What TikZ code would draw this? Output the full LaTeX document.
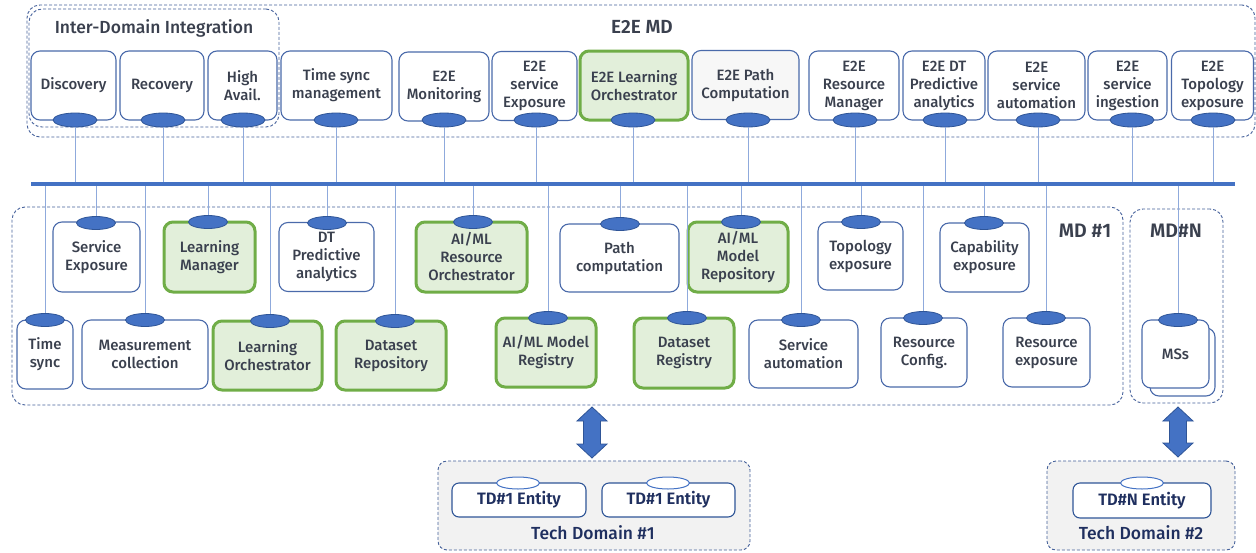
\documentclass[tikz,border=0pt]{standalone}
\usepackage{fontspec}
\setmainfont{Fira Sans}[UprightFont=* Medium, BoldFont=* SemiBold]
\usetikzlibrary{shapes.geometric}
\definecolor{ovalblue}{HTML}{4472C4}
\definecolor{ovaledge}{HTML}{2F5597}
\definecolor{boxedge}{HTML}{4A6AAA}
\definecolor{grnedge}{HTML}{70AD47}
\definecolor{grnfill}{HTML}{E2EFDA}
\definecolor{txt}{HTML}{3A404E}
\definecolor{navy}{HTML}{1F2F5F}
\definecolor{dashc}{HTML}{44609A}
\definecolor{linec}{HTML}{8FAADC}
\definecolor{tdfill}{HTML}{F2F2F2}
\newcommand\fatarrow[3]{%
  \filldraw[fill=ovalblue, draw=ovaledge, line width=0.8pt]
    (#1,#2) -- (#1+15,#2+14) -- (#1+8.5,#2+14) -- (#1+8.5,#3-14) -- (#1+15,#3-14)
    -- (#1,#3) -- (#1-15,#3-14) -- (#1-8.5,#3-14) -- (#1-8.5,#2+14) -- (#1-15,#2+14) -- cycle;}
\begin{document}
\begin{tikzpicture}[x=1pt,y=-1pt,
  wh/.style 2 args={minimum width=#1pt, minimum height=#2pt},
  box/.style={draw=boxedge, line width=1.1pt, rounded corners=9pt, fill=white, text=txt,
    align=center, font=\fontsize{15}{18}\selectfont, inner sep=0pt},
  grn/.style={box, draw=grnedge, line width=3pt, fill=grnfill},
  oval/.style={ellipse, draw=ovaledge, fill=ovalblue, line width=0.8pt,
    minimum width=44pt, minimum height=14pt, inner sep=0pt},
  soval/.style={oval, minimum width=39pt, minimum height=13pt},
  woval/.style={ellipse, draw=ovalblue, fill=white, line width=1pt,
    minimum width=43pt, minimum height=12pt, inner sep=0pt},
  cont/.style={draw=dashc, line width=0.9pt, dash pattern=on 3pt off 2pt, rounded corners=13pt, inner sep=0pt},
  conn/.style={draw=linec, line width=1pt},
  ent/.style={draw=ovaledge, line width=1.1pt, rounded corners=7pt, fill=white, text=navy,
    font=\fontsize{16.5}{19}\selectfont\bfseries, inner sep=0pt},
  title/.style={text=txt, inner sep=0pt},
]
\useasboundingbox (0,0) rectangle (1256,552);

% containers
\node[cont, wh={1228}{132}] (e2e) at (641,71) {};
\node[cont, wh={250}{118}] (idi) at (154,68) {};
\node[cont, wh={1111}{198}] (md1) at (567.5,306) {};
\node[cont, wh={93}{194}] (mdn) at (1176.5,306) {};
\node[title, font=\fontsize{17.5}{20}\selectfont] (idit) at (154,28) {Inter-Domain Integration};
\node[title, font=\fontsize{19}{21}\selectfont\bfseries] (e2et) at (642,27) {E2E MD};
\node[title, font=\fontsize{19.5}{22}\selectfont\bfseries] (md1t) at (1085,231) {MD \#1};
\node[title, font=\fontsize{19.5}{22}\selectfont\bfseries] (mdnt) at (1176,231) {MD\#N};

% top row
\node[box, wh={85}{69}] (disc) at (73.5,85.5) {Discovery};
\node[box, wh={84}{69}] (reco) at (162,85.5) {Recovery};
\node[box, wh={69}{69}] (havl) at (242.5,85.5) {High\\Avail.};
\node[box, wh={111}{69}] (tsm) at (336.5,85.5) {Time sync\\management};
\node[box, wh={90}{69}] (emon) at (444,86.5) {E2E\\Monitoring};
\node[box, wh={85}{69}] (esex) at (534.5,86) {E2E\\service\\Exposure};
\node[grn, wh={108}{69}] (elo) at (634,85.5) {E2E Learning\\Orchestrator};
\node[box, fill=black!3, wh={107}{69}] (epc) at (745.5,85) {E2E Path\\Computation};
\node[box, wh={90}{69}] (erm) at (854,85.5) {E2E\\Resource\\Manager};
\node[box, wh={82}{69}] (edt) at (944,85.5) {E2E DT\\Predictive\\analytics};
\node[box, wh={97}{69}] (esa) at (1036.5,85.5) {E2E\\service\\automation};
\node[box, wh={79}{69}] (esi) at (1127.5,85.5) {E2E\\service\\ingestion};
\node[box, wh={82}{69}] (eto) at (1212.5,85.5) {E2E\\Topology\\exposure};

\foreach \n/\x in {disc/75, reco/163, havl/243, tsm/336, emon/444, esex/536, elo/633,
                   epc/748, erm/855, edt/945, esa/1038, esi/1132, eto/1213}
  \node[oval] (o\n) at (\x,120) {};

% MD#1 row 1
\node[box, wh={87}{70}] (sexp) at (96.5,257) {Service\\Exposure};
\node[grn, wh={91}{70}] (lman) at (209.5,257) {Learning\\Manager};
\node[box, wh={95}{69}] (dtpa) at (326.5,257) {DT\\Predictive\\analytics};
\node[grn, wh={111}{70}] (aro) at (471.5,257) {AI/ML\\Resource\\Orchestrator};
\node[box, wh={119}{68}] (pcomp) at (619.5,258) {Path\\computation};
\node[grn, wh={100}{70}] (amr) at (738,257) {AI/ML\\Model\\Repository};
\node[box, wh={85}{68}] (tope) at (860.5,256) {Topology\\exposure};
\node[box, wh={89}{69}] (cape) at (984.5,257.5) {Capability\\exposure};
\foreach \n/\x/\y in {sexp/96/223, lman/208/222, dtpa/327/223, aro/473/222, pcomp/620/224,
                      amr/741/222, tope/861/222, cape/984/223}
  \node[soval] (o\n) at (\x,\y) {};

% MD#1 row 2
\node[box, wh={56}{69}] (tsyn) at (45,354.5) {Time\\sync};
\node[box, wh={126}{69}] (meas) at (145,354.5) {Measurement\\collection};
\node[grn, wh={109}{69}] (lorc) at (267.5,355.5) {Learning\\Orchestrator};
\node[grn, wh={110}{69}] (drep) at (391,355.5) {Dataset\\Repository};
\node[grn, wh={100}{69}] (amreg) at (546,352.5) {AI/ML Model\\Registry};
\node[grn, wh={100}{70}] (dreg) at (684,353) {Dataset\\Registry};
\node[box, wh={109}{68}] (saut) at (803.5,354) {Service\\automation};
\node[box, wh={86}{69}] (rcfg) at (924,352.5) {Resource\\Config.};
\node[box, wh={87}{69}] (rexp) at (1046.5,352.5) {Resource\\exposure};
\node[box, wh={65}{68}] (msb) at (1182.5,362) {};
\node[box, wh={67}{68}] (msf) at (1175.5,354) {MSs};
\foreach \n/\x/\y in {tsyn/45/320, meas/145/320, lorc/270/321, drep/395/321, amreg/548/318,
                      dreg/687/318, saut/801/320, rcfg/923/318, rexp/1046/318, msf/1178/320}
  \node[soval] (o\n) at (\x,\y) {};

% bus and connectors
\coordinate (busL) at (31,184);
\coordinate (busR) at (1235,184);
\foreach \n in {disc, reco, havl, tsm, emon, esex, elo, epc, erm, edt, esa, esi, eto}
  \draw[conn] (o\n.south) -- (o\n.south |- busL);
\foreach \n in {sexp, lman, dtpa, aro, pcomp, amr, tope, cape,
                tsyn, meas, lorc, drep, amreg, dreg, saut, rcfg, rexp, msf}
  \draw[conn] (o\n.north |- busL) -- (o\n.north);
\draw[draw=ovalblue, line width=3.5pt] (busL) -- (busR);

% tech domains
\node[cont, fill=tdfill, rounded corners=9pt, wh={312}{89}] (td1) at (594,505.5) {};
\node[ent, wh={134}{34}] (e1a) at (519,500) {TD\#1 Entity};
\node[ent, wh={133}{34}] (e1b) at (668.5,500) {TD\#1 Entity};
\node[woval] (oe1a) at (518,483) {};
\node[woval] (oe1b) at (668,483) {};
\node[text=navy, font=\fontsize{17.5}{20}\selectfont, inner sep=0pt] (td1t) at (593,533) {Tech Domain \#1};

\node[cont, fill=tdfill, rounded corners=9pt, wh={188}{89}] (td2) at (1141,505.5) {};
\node[ent, wh={138}{35}] (e2a) at (1142,500.5) {TD\#N Entity};
\node[woval] (oe2a) at (1142,483) {};
\node[text=navy, font=\fontsize{17.5}{20}\selectfont, inner sep=0pt] (td2t) at (1141,533) {Tech Domain \#2};

\fatarrow{592}{407}{458}
\fatarrow{1178}{407}{457}
\end{tikzpicture}
\end{document}
